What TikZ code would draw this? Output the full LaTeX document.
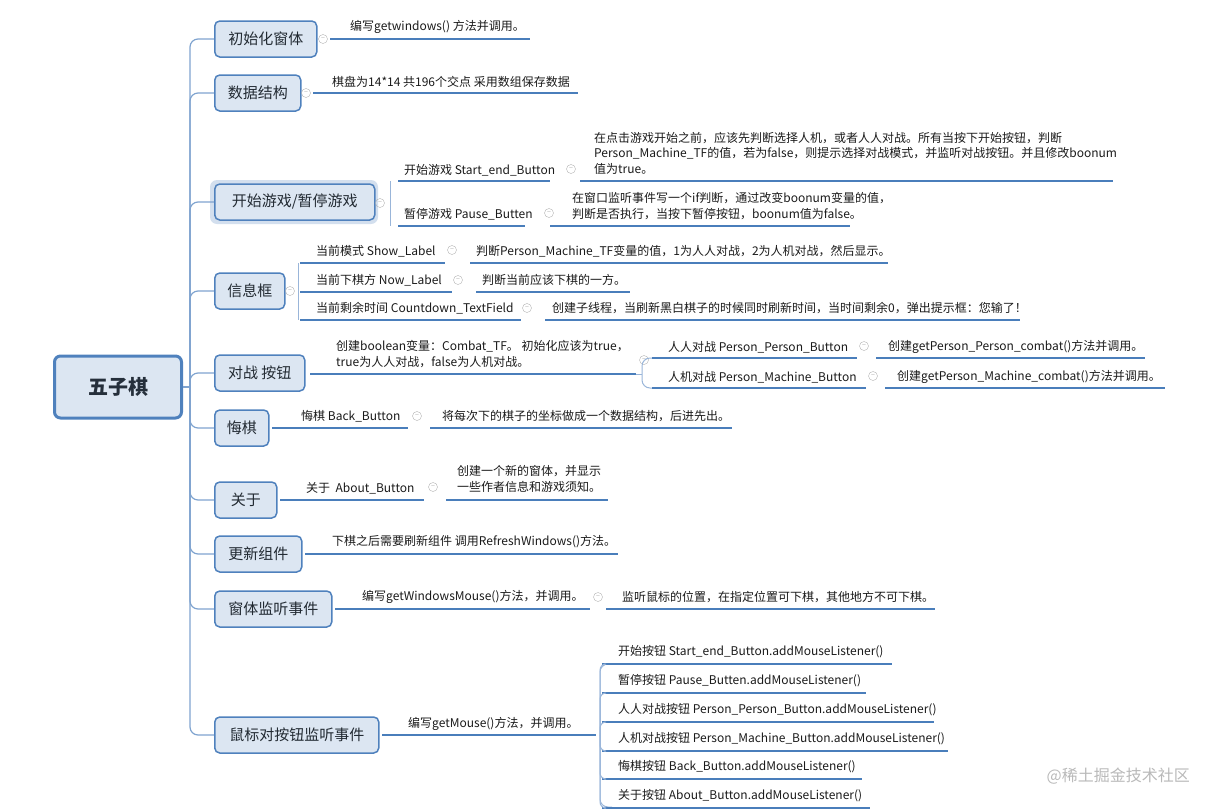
\documentclass[tikz,border=0pt]{standalone}
\usepackage{fontspec}
\setmainfont{Noto Sans CJK SC}
\definecolor{boxfill}{HTML}{DCE6F2}
\definecolor{bcol}{HTML}{4F81BD}
\definecolor{ulcol}{HTML}{4A7EBB}
\definecolor{spcol}{HTML}{7FA3CF}
\definecolor{txt}{HTML}{1A1A1A}
\tikzset{
 rootbox/.style={draw=bcol,line width=3pt,fill=boxfill,rounded corners=6pt,minimum width=127pt,minimum height=62pt,font=\fontsize{20}{24}\selectfont\bfseries,text=txt!80!bcol},
 topic/.style={draw=bcol,line width=1.5pt,fill=boxfill,rounded corners=5pt,minimum height=36pt,anchor=west,font=\fontsize{15}{18}\selectfont,text=txt!85!bcol},
 lbl/.style={anchor=west,inner sep=0pt,font=\fontsize{12}{15.5}\selectfont,text=txt,align=left},
 ul/.style={draw=ulcol,line width=2pt},
 spine/.style={draw=spcol,line width=1.2pt,rounded corners=8pt},
 brk/.style={draw=spcol!80,line width=1pt},
 mk/.style={circle,draw=gray!60,inner sep=0pt,minimum size=9pt,font=\fontsize{7}{7}\selectfont,text=gray!60},
}
\newcommand{\ulx}[3]{\draw[ul] (#1,#3) -- (#2,#3);}
\begin{document}
\begin{tikzpicture}[x=1pt,y=-1pt]
\useasboundingbox (0,0) rectangle (1213,809);
% root
\node[rootbox] (root) at (118,387) {五子棋};
\coordinate (sp) at (190,387);
% topics
\node[topic,minimum width=102pt] (t1) at (214,39) {初始化窗体};
\node[topic,minimum width=86pt] (t2) at (214,93) {数据结构};
\fill[bcol!25,rounded corners=7pt] (210,180) rectangle (378,224);
\node[topic,minimum width=160pt] (t3) at (214,202) {开始游戏/暂停游戏};
\node[topic,minimum width=70pt] (t4) at (214,291) {信息框};
\node[topic,minimum width=90pt] (t5) at (214,373) {对战 按钮};
\node[topic,minimum width=54pt] (t6) at (214,428) {悔棋};
\node[topic,minimum width=62pt] (t7) at (214,500) {关于};
\node[topic,minimum width=87pt] (t8) at (214,554) {更新组件};
\node[topic,minimum width=117pt] (t9) at (214,609) {窗体监听事件};
\node[topic,minimum width=164pt] (t10) at (214,735) {鼠标对按钮监听事件};
\draw[spine] (root.east) -- (sp);
\foreach \t in {t1,t2,t3,t4,t5,t6,t7,t8,t9,t10}{\draw[spine] (sp) |- (\t.west);}
% 1
\node[mk] (m1) at (323,39) {−};
\node[lbl] (c1) at (350,27) {编写getwindows() 方法并调用。};
\ulx{330}{530}{39}
% 2
\node[mk] (m2) at (306,93) {−};
\node[lbl] (c2) at (332,82) {棋盘为14*14 共196个交点 采用数组保存数据};
\ulx{313}{578}{93}
% 3
\node[mk] (m3) at (380,203) {−};
\draw[brk] (390,181) -- (390,226);
\node[lbl] (c31) at (404,170) {开始游戏 Start\_end\_Button};
\ulx{398}{550}{181}
\node[mk] (m31) at (571,169) {−};
\node[lbl] (g31) at (594,153) {在点击游戏开始之前，应该先判断选择人机，或者人人对战。所有当按下开始按钮，判断\\Person\_Machine\_TF的值，若为false，则提示选择对战模式，并监听对战按钮。并且修改boonum\\值为true。};
\ulx{580}{1113}{181}
\node[lbl] (c32) at (404,214) {暂停游戏 Pause\_Butten};
\ulx{398}{525}{226}
\node[mk] (m32) at (549,213) {−};
\node[lbl] (g32) at (572,206) {在窗口监听事件写一个if判断，通过改变boonum变量的值，\\判断是否执行，当按下暂停按钮，boonum值为false。};
\ulx{550}{850}{226}
% 4
\node[mk] (m4) at (290,291) {−};
\draw[brk] (298,263) -- (298,320);
\node[lbl] (c41) at (316,251) {当前模式 Show\_Label};
\ulx{300}{445}{263}
\node[mk] (m41) at (452,250) {−};
\node[lbl] (g41) at (476,251) {判断Person\_Machine\_TF变量的值，1为人人对战，2为人机对战，然后显示。};
\ulx{470}{888}{263}
\node[lbl] (c42) at (316,280) {当前下棋方 Now\_Label};
\ulx{300}{452}{292}
\node[mk] (m42) at (458,280) {−};
\node[lbl] (g42) at (482,280) {判断当前应该下棋的一方。};
\ulx{476}{630}{292}
\node[lbl] (c43) at (316,308) {当前剩余时间 Countdown\_TextField};
\ulx{300}{521}{320}
\node[mk] (m43) at (527,308) {−};
\node[lbl] (g43) at (552,308) {创建子线程，当刷新黑白棋子的时候同时刷新时间，当时间剩余0，弹出提示框：您输了！};
\ulx{545}{1020}{320}
% 5
\node[lbl] (c5) at (336,354) {创建boolean变量：Combat\_TF。 初始化应该为true，\\true为人人对战，false为人机对战。};
\ulx{310}{636}{374}
\node[mk] (m5) at (644,360) {−};
\draw[brk,rounded corners=8pt] (652,358) -- (642,358) |- (660,388);
\draw[brk] (636,374) -- (642,374);
\node[lbl] (c51) at (668,347) {人人对战 Person\_Person\_Button};
\ulx{652}{857}{358}
\node[mk] (m51) at (864,346) {−};
\node[lbl] (g51) at (888,347) {创建getPerson\_Person\_combat()方法并调用。};
\ulx{876}{1145}{358}
\node[lbl] (c52) at (668,377) {人机对战 Person\_Machine\_Button};
\ulx{652}{866}{388}
\node[mk] (m52) at (873,376) {−};
\node[lbl] (g52) at (897,377) {创建getPerson\_Machine\_combat()方法并调用。};
\ulx{885}{1165}{388}
% 6
\node[lbl] (c6) at (301,416) {悔棋 Back\_Button};
\ulx{272}{408}{428}
\node[mk] (m6) at (417,416) {−};
\node[lbl] (g6) at (442,416) {将每次下的棋子的坐标做成一个数据结构，后进先出。};
\ulx{430}{732}{428}
% 7
\node[lbl] (c7) at (306,488) {关于\ \ About\_Button};
\ulx{280}{424}{500}
\node[mk] (m7) at (433,487) {−};
\node[lbl] (g7) at (457,479) {创建一个新的窗体，并显示\\一些作者信息和游戏须知。};
\ulx{446}{608}{500}
% 8
\node[lbl] (c8) at (332,542) {下棋之后需要刷新组件 调用RefreshWindows()方法。};
\ulx{305}{618}{554}
% 9
\node[lbl] (c9) at (362,597) {编写getWindowsMouse()方法，并调用。};
\ulx{335}{590}{609}
\node[mk] (m9) at (598,597) {−};
\node[lbl] (g9) at (622,597) {监听鼠标的位置，在指定位置可下棋，其他地方不可下棋。};
\ulx{606}{935}{609}
% 10
\node[lbl] (c10) at (408,724) {编写getMouse()方法，并调用。};
\ulx{382}{596}{735}
\draw[brk,rounded corners=8pt] (612,664) -| (600,807) -- (612,807);
\foreach \yy/\tx/\xe [count=\i] in {
 652/开始按钮 Start\_end\_Button.addMouseListener()/892,
 681/暂停按钮 Pause\_Butten.addMouseListener()/866,
 710/人人对战按钮 Person\_Person\_Button.addMouseListener()/934,
 739/人机对战按钮 Person\_Machine\_Button.addMouseListener()/948,
 767/悔棋按钮 Back\_Button.addMouseListener()/862,
 796/关于按钮 About\_Button.addMouseListener()/870}{
 \node[lbl] (g10\i) at (618,\yy) {\tx};
 \draw[ul] (602,\yy+12) -- (\xe,\yy+12);
 \draw[brk,rounded corners=6pt] (600,735) |- (604,\yy+12);
}
\node[anchor=east,inner sep=0pt,text=gray!55,font=\fontsize{16}{18}\selectfont] (wm) at (1190,776) {@稀土掘金技术社区};
\end{tikzpicture}
\end{document}
